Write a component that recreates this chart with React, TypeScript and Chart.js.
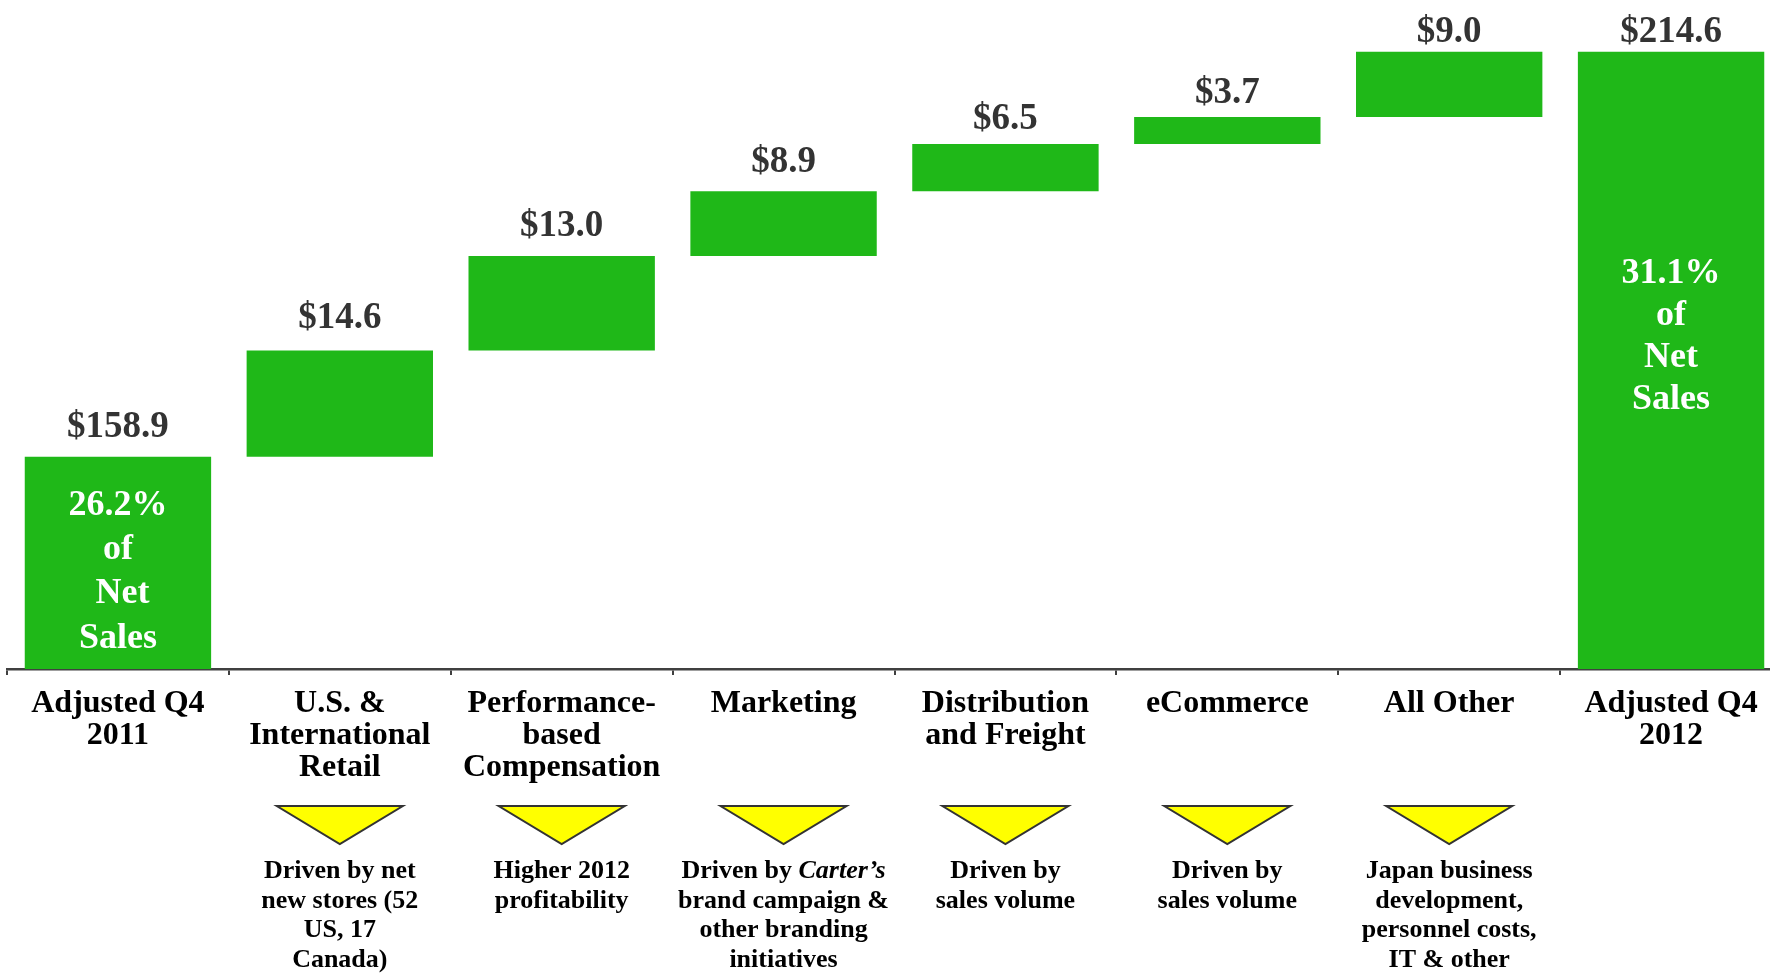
import React, { useEffect, useRef } from 'react';
import { Chart, registerables } from 'chart.js';

Chart.register(...registerables);

// ---------- data ----------
const CATEGORIES: string[][] = [
  ['Adjusted Q4', '2011'],
  ['U.S. &', 'International', 'Retail'],
  ['Performance-', 'based', 'Compensation'],
  ['Marketing'],
  ['Distribution', 'and Freight'],
  ['eCommerce'],
  ['All Other'],
  ['Adjusted Q4', '2012'],
];
const START_VALUE = 158.9;
const INCREMENTS = [14.6, 13.0, 8.9, 6.5, 3.7, 9.0];
const END_VALUE = 214.6;
const VALUE_LABELS = ['$158.9', '$14.6', '$13.0', '$8.9', '$6.5', '$3.7', '$9.0', '$214.6'];
const START_NOTE = ['26.2%', 'of', ' Net', 'Sales'];
const END_NOTE = ['31.1%', 'of', 'Net', 'Sales'];
const DRIVERS: (string[] | null)[] = [
  null,
  ['Driven by net', 'new stores (52', 'US, 17', 'Canada)'],
  ['Higher 2012', 'profitability'],
  ['Driven by Carter’s', 'brand campaign &', 'other branding', 'initiatives'],
  ['Driven by', 'sales volume'],
  ['Driven by', 'sales volume'],
  ['Japan business', 'development,', 'personnel costs,', 'IT & other'],
  null,
];
const ITALIC_TERMS = ['Carter’s'];
const AXIS_MIN = 129.7;
const AXIS_MAX = 221.7;

// ---------- styles ----------
const GREEN = '#1FB818';
const FONT = '"Liberation Serif", "Times New Roman", serif';
const LABEL_GAP = [20, 22, 20, 19, 15, 14, 10, 10];
const NOTE_STYLE: Record<number, { offset: number; step: number }> = {
  0: { offset: 58, step: 44.3 },
  7: { offset: 231, step: 42 },
};

function buildBars(): [number, number][] {
  const bars: [number, number][] = [[AXIS_MIN, START_VALUE]];
  let run = START_VALUE;
  for (const inc of INCREMENTS) {
    bars.push([run, run + inc]);
    run += inc;
  }
  bars.push([AXIS_MIN, END_VALUE]);
  return bars;
}

function drawMixedLine(ctx: CanvasRenderingContext2D, line: string, cx: number, y: number, size: number) {
  const segs: { t: string; it: boolean }[] = [];
  let rest = line;
  while (rest.length) {
    let idx = -1;
    let term = '';
    for (const t of ITALIC_TERMS) {
      const k = rest.indexOf(t);
      if (k >= 0 && (idx < 0 || k < idx)) { idx = k; term = t; }
    }
    if (idx < 0) { segs.push({ t: rest, it: false }); break; }
    if (idx > 0) segs.push({ t: rest.slice(0, idx), it: false });
    segs.push({ t: term, it: true });
    rest = rest.slice(idx + term.length);
  }
  const fontFor = (it: boolean) => `${it ? 'italic ' : ''}bold ${size}px ${FONT}`;
  let total = 0;
  const widths = segs.map((s) => {
    ctx.font = fontFor(s.it);
    const w = ctx.measureText(s.t).width;
    total += w;
    return w;
  });
  let x = cx - total / 2;
  ctx.textAlign = 'left';
  segs.forEach((s, i) => {
    ctx.font = fontFor(s.it);
    ctx.fillText(s.t, x, y);
    x += widths[i];
  });
}

const annotationPlugin = {
  id: 'waterfallAnnotations',
  afterDraw(chart: any) {
    const ctx: CanvasRenderingContext2D = chart.ctx;
    const meta = chart.getDatasetMeta(0);
    const xs = chart.scales.x;
    const axisY = chart.chartArea.bottom;
    ctx.save();
    ctx.textBaseline = 'alphabetic';

    // value labels above bars
    ctx.fillStyle = '#333333';
    ctx.font = `bold 37px ${FONT}`;
    ctx.textAlign = 'center';
    meta.data.forEach((bar: any, i: number) => {
      ctx.fillText(VALUE_LABELS[i], bar.x, bar.y - LABEL_GAP[i]);
    });

    // white notes inside first and last bar
    ctx.fillStyle = '#FFFFFF';
    ctx.font = `bold 36px ${FONT}`;
    [[0, START_NOTE], [meta.data.length - 1, END_NOTE]].forEach(([idx, lines]: any) => {
      const bar = meta.data[idx];
      const st = NOTE_STYLE[idx];
      (lines as string[]).forEach((ln, k) => {
        ctx.fillText(ln, bar.x, bar.y + st.offset + k * st.step);
      });
    });

    // yellow triangles and driver notes
    DRIVERS.forEach((lines, i) => {
      if (!lines) return;
      const cx = xs.getPixelForValue(i);
      const top = axisY + 137;
      const apex = axisY + 175;
      ctx.beginPath();
      ctx.moveTo(cx - 63, top);
      ctx.lineTo(cx + 63, top);
      ctx.lineTo(cx, apex);
      ctx.closePath();
      ctx.fillStyle = '#FFFF00';
      ctx.fill();
      ctx.lineWidth = 2;
      ctx.strokeStyle = '#333333';
      ctx.lineJoin = 'miter';
      ctx.stroke();

      ctx.fillStyle = '#000000';
      lines.forEach((ln, k) => {
        drawMixedLine(ctx, ln, cx, axisY + 209 + k * 29.6, 26);
      });
    });
    ctx.restore();
  },
};

export default function App() {
  const ref = useRef<HTMLCanvasElement | null>(null);
  useEffect(() => {
    if (!ref.current) return;
    const chart = new Chart(ref.current, {
      type: 'bar',
      data: {
        labels: CATEGORIES,
        datasets: [
          {
            data: buildBars() as any,
            backgroundColor: GREEN,
            borderWidth: 0,
            barPercentage: 0.84,
            categoryPercentage: 1.0,
          },
        ],
      },
      options: {
        animation: false,
        responsive: false,
        layout: { padding: { left: 7, right: 8, top: 0, bottom: 176 } },
        plugins: { legend: { display: false }, tooltip: { enabled: false } },
        scales: {
          x: {
            offset: true,
            grid: {
              offset: true,
              drawOnChartArea: false,
              drawTicks: true,
              tickLength: 6,
              color: '#404040',
              lineWidth: 2,
            },
            border: { display: true, color: '#404040', width: 2.5 },
            ticks: {
              autoSkip: false,
              maxRotation: 0,
              minRotation: 0,
              padding: 13,
              color: '#000000',
              font: { family: FONT, size: 32, weight: 'bold', lineHeight: 1.0 },
            },
          },
          y: { display: false, min: AXIS_MIN, max: AXIS_MAX },
        },
      },
      plugins: [annotationPlugin],
    });
    return () => chart.destroy();
  }, []);

  return (
    <div
      style={{
        position: 'fixed',
        left: 0,
        top: 0,
        width: 1770,
        height: 973,
        overflow: 'hidden',
        background: '#ffffff',
      }}
    >
      <canvas ref={ref} width={1790} height={973} style={{ display: 'block' }} />
    </div>
  );
}
